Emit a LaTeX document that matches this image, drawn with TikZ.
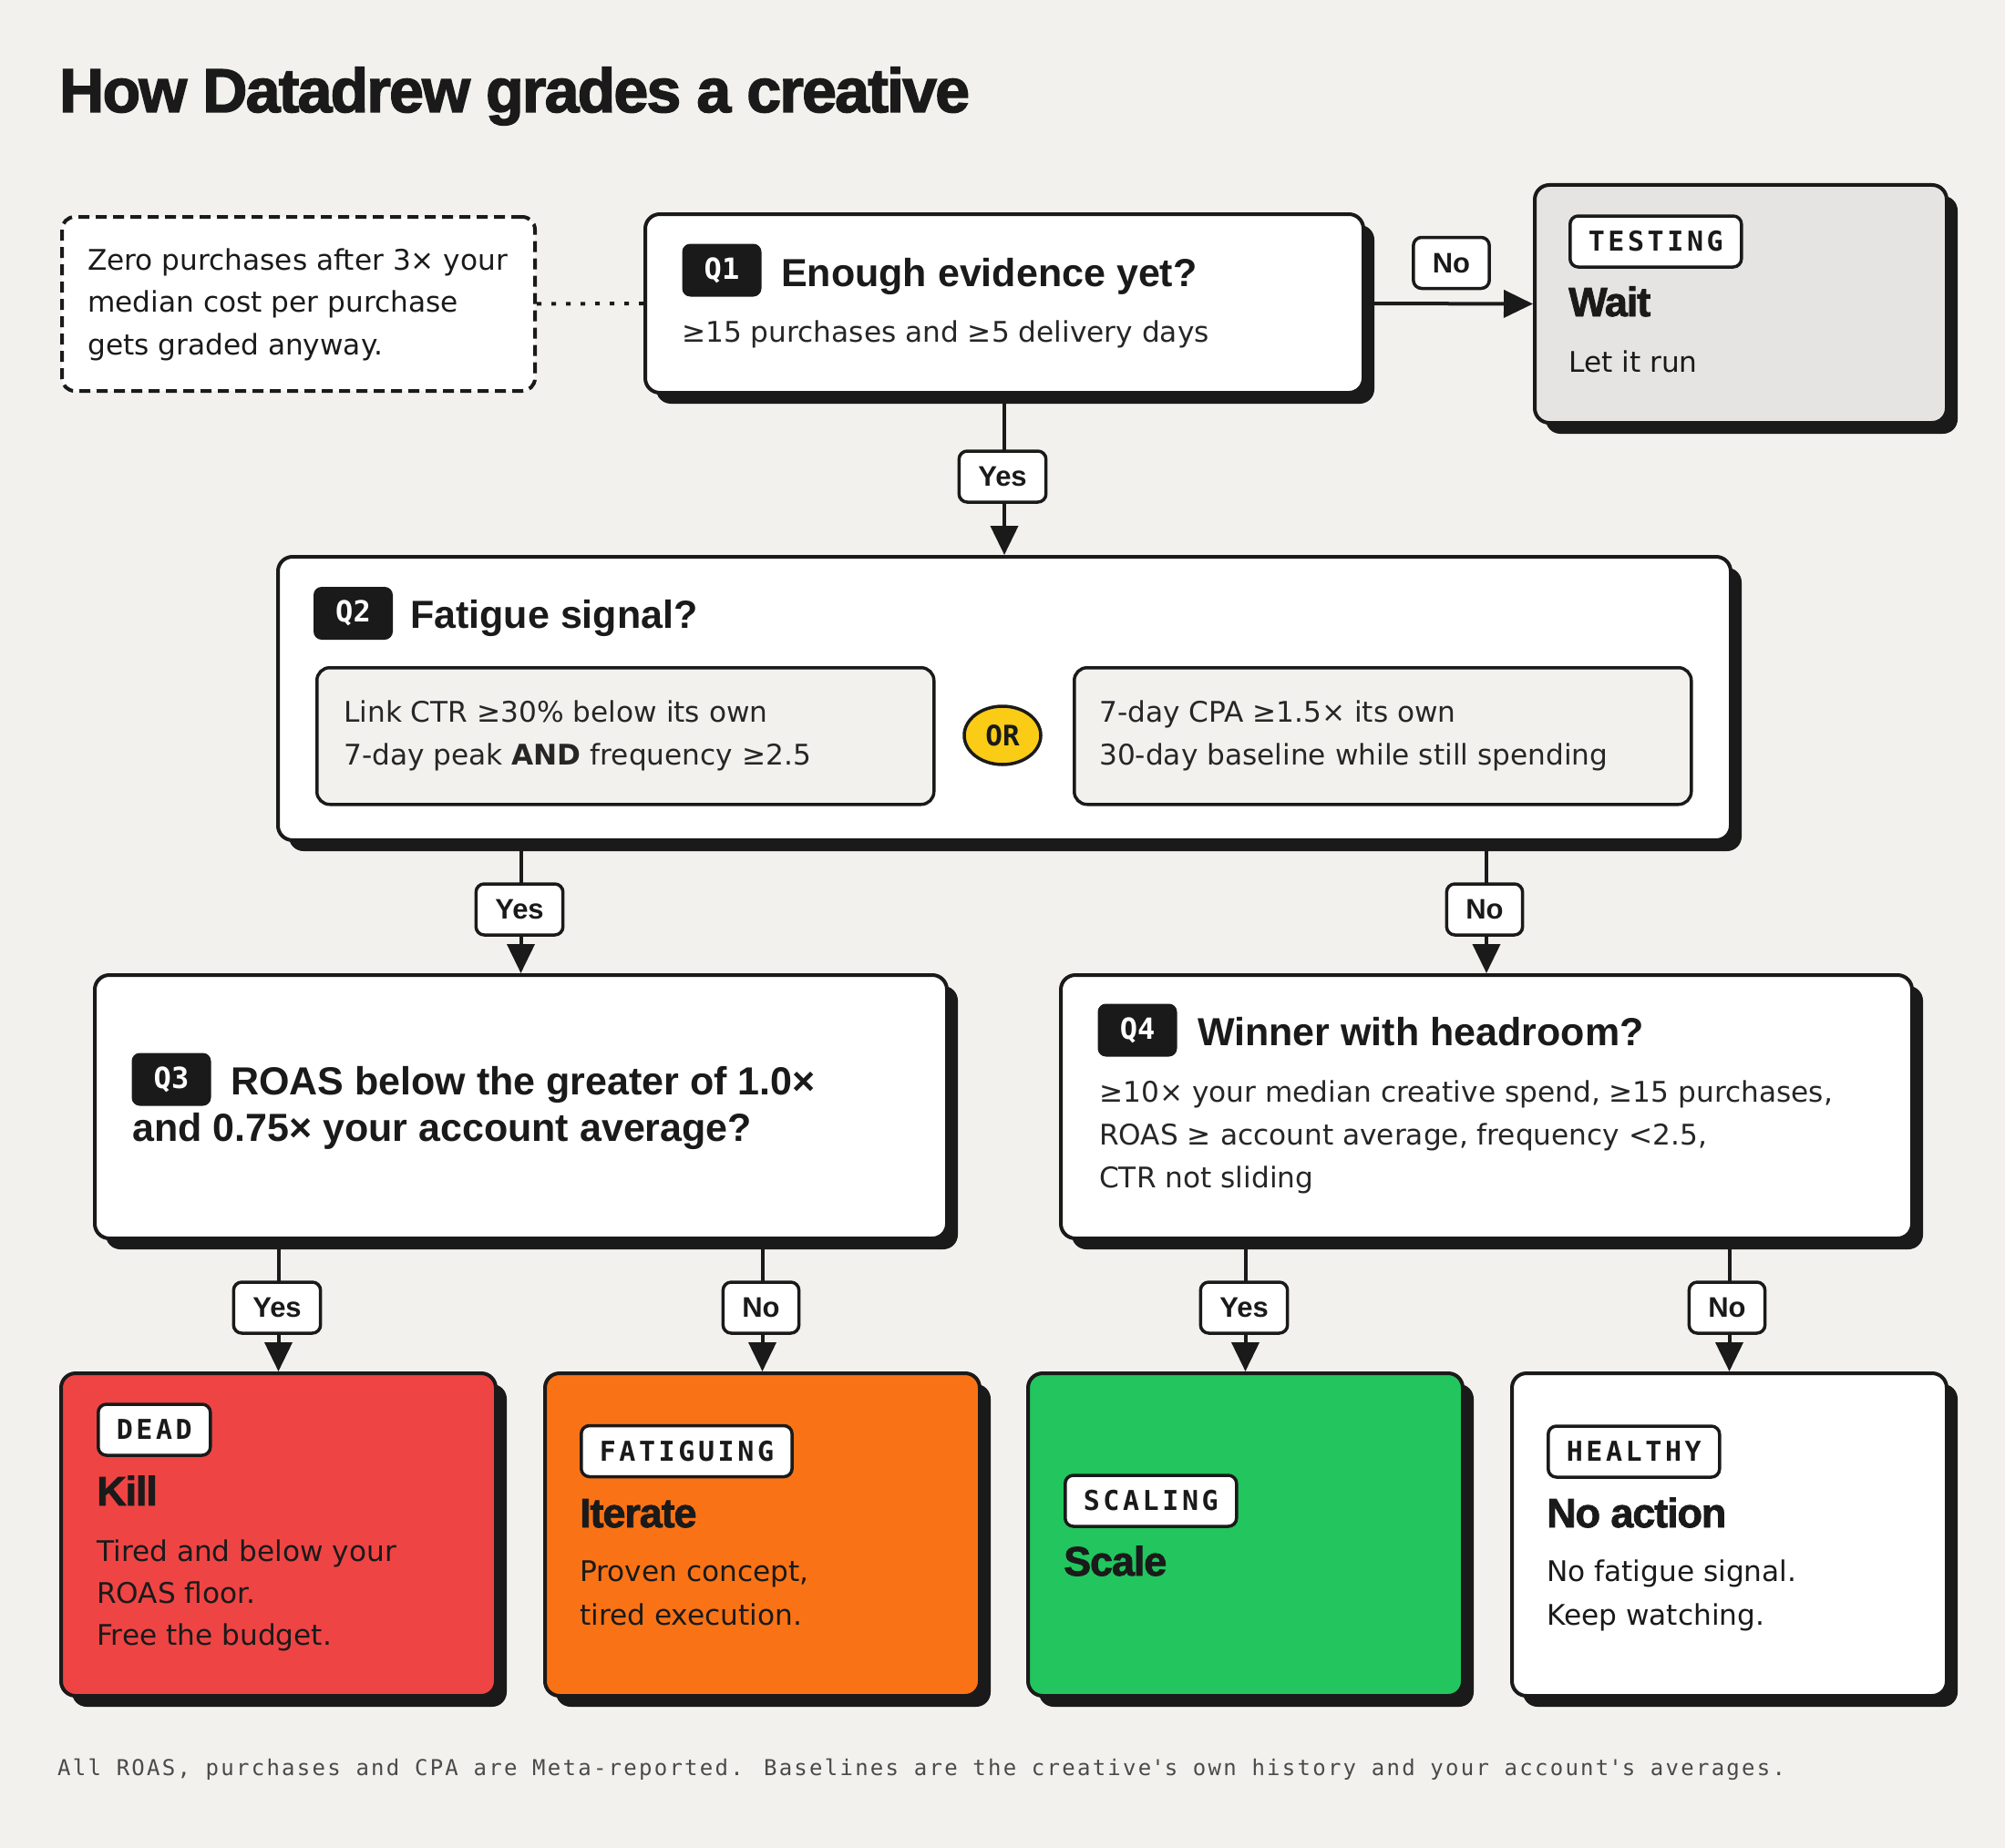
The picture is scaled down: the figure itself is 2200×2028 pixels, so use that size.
\documentclass[tikz,border=0pt]{standalone}
\usepackage{fontspec}
\setmainfont{DejaVu Sans}
\newfontfamily\titlefam[LetterSpace=-2.6,FakeBold=2.2]{Liberation Sans}
\newfontfamily\headfam{Liberation Sans}
\newfontfamily\outfam[LetterSpace=-2.5,FakeBold=1.8]{Liberation Sans}
\newfontfamily\tagfam[LetterSpace=12]{DejaVu Sans Mono}
\newfontfamily\qfam{DejaVu Sans Mono}
\newfontfamily\footfam[LetterSpace=9.4]{DejaVu Sans Mono}
\usetikzlibrary{arrows.meta,shapes.geometric}
\definecolor{bg}{HTML}{F3F1EE}
\definecolor{ink}{HTML}{1A1A1A}
\definecolor{bodyc}{HTML}{262626}
\definecolor{graybox}{HTML}{E5E4E2}
\definecolor{redc}{HTML}{EF4444}
\definecolor{orangec}{HTML}{F97316}
\definecolor{greenc}{HTML}{22C55E}
\definecolor{yellowc}{HTML}{FACC15}
\definecolor{footc}{HTML}{4A4A4A}
\begin{document}
\begin{tikzpicture}[x=1pt,y=-1pt,
  card/.style={draw=ink, line width=4pt, rounded corners=16pt, anchor=north west, inner sep=0pt,
    preaction={fill=ink, transform canvas={xshift=12pt,yshift=-12pt}}},
  subbox/.style={draw=ink, line width=3.5pt, rounded corners=14pt, fill=bg, anchor=north west, inner sep=0pt},
  tagbox/.style={draw=ink, line width=3.5pt, rounded corners=9pt, fill=white, text=ink,
    font=\tagfam\bfseries\fontsize{30}{30}\selectfont, inner xsep=20pt, inner ysep=0pt, minimum height=56pt, anchor=west},
  qtag/.style={fill=ink, rounded corners=9pt, text=white, font=\qfam\bfseries\fontsize{32}{32}\selectfont,
    minimum width=87pt, minimum height=58pt, inner sep=0pt},
  edgelbl/.style={draw=ink, line width=3.5pt, rounded corners=9pt, fill=white, text=ink,
    font=\headfam\bfseries\fontsize{31}{31}\selectfont, minimum height=56pt, inner xsep=21pt, inner ysep=0pt},
  orbadge/.style={ellipse, draw=ink, line width=3.5pt, fill=yellowc, text=ink,
    font=\qfam\bfseries\fontsize{31}{31}\selectfont, minimum width=84pt, minimum height=64pt, inner sep=0pt},
  txt/.style={anchor=base west, inner sep=0pt, text=bodyc, font=\fontsize{31.2}{47}\selectfont},
  head/.style={anchor=base west, inner sep=0pt, text=ink, font=\headfam\bfseries\fontsize{43}{50}\selectfont},
  outc/.style={anchor=base west, inner sep=0pt, text=ink, font=\outfam\bfseries\fontsize{45}{50}\selectfont},
  conn/.style={draw=ink, line width=4pt, -{Triangle[length=32pt,width=30pt]}},
]
\fill[bg] (0,0) rectangle (2200,2028);
\useasboundingbox (0,0) rectangle (2200,2028);

% title
\node[anchor=base west, inner sep=0pt, text=ink, font=\titlefam\bfseries\fontsize{68}{70}\selectfont] (title) at (65,123) {How Datadrew grades a creative};

% note
\node[draw=ink, line width=4pt, dash pattern=on 12pt off 7pt, rounded corners=14pt, fill=white,
  anchor=north west, minimum width=519pt, minimum height=191pt, inner sep=0pt] (note) at (66,236) {};
\node[txt, text=ink] (note1) at (96,296) {Zero purchases after 3× your};
\node[txt, text=ink] (note2) at (96,342) {median cost per purchase};
\node[txt, text=ink] (note3) at (96,389) {gets graded anyway.};

% Q1
\node[card, fill=white, minimum width=788pt, minimum height=196pt] (q1) at (706,233) {};
\node[qtag] (q1tag) at (792,296.5) {Q1};
\node[head] (q1head) at (857,314) {Enough evidence yet?};
\node[txt] (q1sub) at (748,375) {≥15 purchases and ≥5 delivery days};
\draw[ink, line width=4pt, dash pattern=on 5pt off 11pt] (note.east) -- (q1.west);

% testing
\node[card, fill=graybox, minimum width=452pt, minimum height=261pt] (testing) at (1682,201) {};
\node[tagbox] (testingtag) at (1721,265) {TESTING};
\node[outc] (testinghead) at (1721,347) {Wait};
\node[txt, text=ink] (testingsub) at (1721,408) {Let it run};
\draw[conn] (q1.east) -- (testing.west);
\node[edgelbl] (no1) at (1592.5,288.5) {No};

% Q2
\node[card, fill=white, minimum width=1594pt, minimum height=311pt] (q2) at (303,609) {};
\node[qtag] (q2tag) at (387.5,673) {Q2};
\node[head] (q2head) at (450,689) {Fatigue signal?};
\node[subbox, minimum width=677pt, minimum height=150pt] (sigA) at (346,731) {};
\node[subbox, minimum width=677pt, minimum height=150pt] (sigB) at (1177,731) {};
\node[txt] (sigA1) at (377,792) {Link CTR ≥30\% below its own};
\node[txt] (sigA2) at (377,839) {7-day peak \textbf{AND} frequency ≥2.5};
\node[txt] (sigB1) at (1206,792) {7-day CPA ≥1.5× its own};
\node[txt] (sigB2) at (1206,839) {30-day baseline while still spending};
\node[orbadge] (orb) at (1100,807) {OR};

\draw[conn] (q1.south) -- (q2.north);
\node[edgelbl] (yes1) at (1100,523) {Yes};

% Q3
\node[card, fill=white, minimum width=935pt, minimum height=289pt] (q3) at (102,1068) {};
\node[qtag] (q3tag) at (188,1184.5) {Q3};
\node[head] (q3h1) at (253,1201) {ROAS below the greater of 1.0×};
\node[head] (q3h2) at (145,1252) {and 0.75× your account average?};

% Q4
\node[card, fill=white, minimum width=934pt, minimum height=289pt] (q4) at (1162,1068) {};
\node[qtag] (q4tag) at (1248,1130.5) {Q4};
\node[head] (q4head) at (1314,1147) {Winner with headroom?};
\node[txt] (q4l1) at (1206,1209) {≥10× your median creative spend, ≥15 purchases,};
\node[txt] (q4l2) at (1206,1256) {ROAS ≥ account average, frequency <2.5,};
\node[txt] (q4l3) at (1206,1303) {CTR not sliding};

\draw[conn] (q2.south -| q3.north) -- (q3.north);
\node[edgelbl] (yes2) at (570,998) {Yes};
\draw[conn] (q2.south -| q4.north) -- (q4.north);
\node[edgelbl] (no2) at (1629,998) {No};

% outcomes
\node[card, fill=redc, minimum width=477pt, minimum height=354pt] (dead) at (65,1505) {};
\node[card, fill=orangec, minimum width=477pt, minimum height=354pt] (fat) at (596,1505) {};
\node[card, fill=greenc, minimum width=477pt, minimum height=354pt] (scal) at (1126,1505) {};
\node[card, fill=white, minimum width=477pt, minimum height=354pt] (heal) at (1657,1505) {};

\node[tagbox] (deadtag) at (106,1569) {DEAD};
\node[outc] (deadhead) at (106,1652) {Kill};
\node[txt, text=ink] (dead1) at (106,1713) {Tired and below your};
\node[txt, text=ink] (dead2) at (106,1759) {ROAS floor.};
\node[txt, text=ink] (dead3) at (106,1805) {Free the budget.};

\node[tagbox] (fattag) at (636,1592.5) {FATIGUING};
\node[outc] (fathead) at (636,1676) {Iterate};
\node[txt, text=ink] (fat1) at (636,1735) {Proven concept,};
\node[txt, text=ink] (fat2) at (636,1783) {tired execution.};

\node[tagbox] (scaltag) at (1167,1647) {SCALING};
\node[outc] (scalhead) at (1167,1729) {Scale};

\node[tagbox] (healtag) at (1697,1593) {HEALTHY};
\node[outc] (healhead) at (1697,1676) {No action};
\node[txt, text=ink] (heal1) at (1697,1735) {No fatigue signal.};
\node[txt, text=ink] (heal2) at (1697,1783) {Keep watching.};

\draw[conn] (q3.south -| dead.north) -- (dead.north);
\node[edgelbl] (yes3) at (304,1435) {Yes};
\draw[conn] (q3.south -| fat.north) -- (fat.north);
\node[edgelbl] (no3) at (835,1435) {No};
\draw[conn] (q4.south -| scal.north) -- (scal.north);
\node[edgelbl] (yes4) at (1365,1435) {Yes};
\draw[conn] (q4.south -| heal.north) -- (heal.north);
\node[edgelbl] (no4) at (1895,1435) {No};

% footer
\node[anchor=base west, inner sep=0pt, text=footc, font=\footfam\fontsize{24}{24}\selectfont] (foot) at (63,1948)
  {All ROAS, purchases and CPA are Meta-reported. Baselines are the creative\textquotesingle s own history and your account\textquotesingle s averages.};
\end{tikzpicture}
\end{document}
